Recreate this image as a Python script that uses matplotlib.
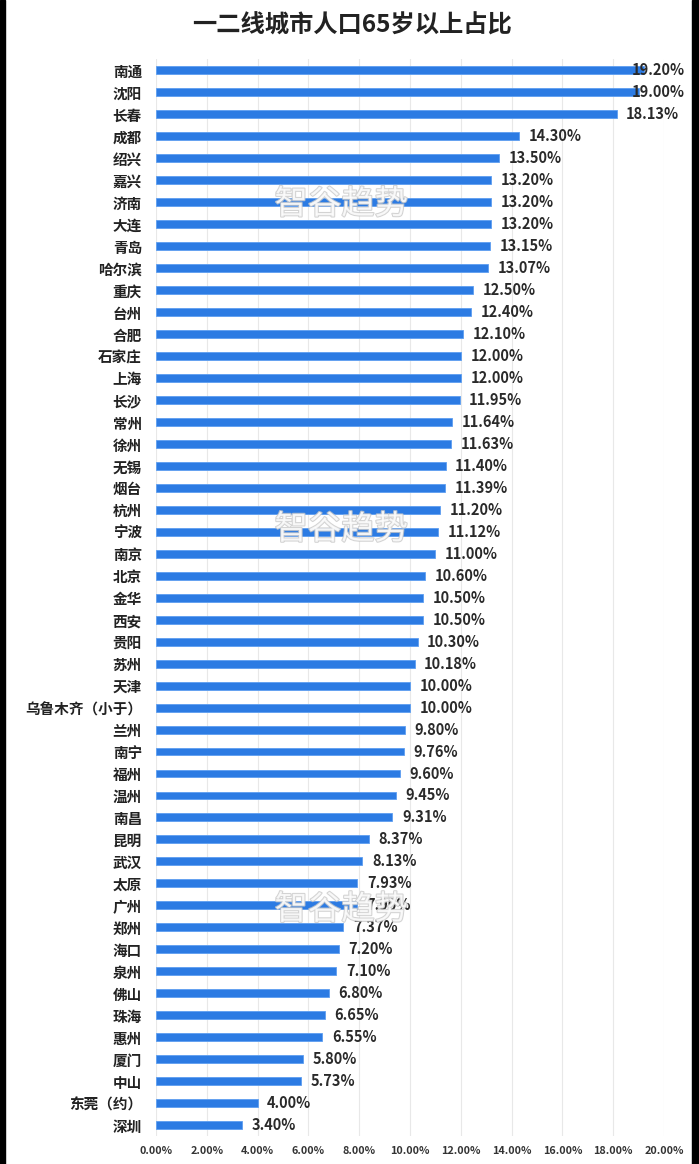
import matplotlib
matplotlib.use('Agg')
import matplotlib.pyplot as plt
import matplotlib.patheffects as pe
from matplotlib.patches import Rectangle
from matplotlib.ticker import FuncFormatter

plt.rcParams['font.family'] = ['Noto Sans CJK SC', 'DejaVu Sans']

cities = ['南通', '沈阳', '长春', '成都', '绍兴', '嘉兴', '济南', '大连', '青岛', '哈尔滨',
          '重庆', '台州', '合肥', '石家庄', '上海', '长沙', '常州', '徐州', '无锡', '烟台',
          '杭州', '宁波', '南京', '北京', '金华', '西安', '贵阳', '苏州', '天津', '乌鲁木齐（小于）',
          '兰州', '南宁', '福州', '温州', '南昌', '昆明', '武汉', '太原', '广州', '郑州',
          '海口', '泉州', '佛山', '珠海', '惠州', '厦门', '中山', '东莞（约）', '深圳']
share = [19.20, 19.00, 18.13, 14.30, 13.50, 13.20, 13.20, 13.20, 13.15, 13.07,
         12.50, 12.40, 12.10, 12.00, 12.00, 11.95, 11.64, 11.63, 11.40, 11.39,
         11.20, 11.12, 11.00, 10.60, 10.50, 10.50, 10.30, 10.18, 10.00, 10.00,
         9.80, 9.76, 9.60, 9.45, 9.31, 8.37, 8.13, 7.93, 7.90, 7.37,
         7.20, 7.10, 6.80, 6.65, 6.55, 5.80, 5.73, 4.00, 3.40]
title = '一二线城市人口65岁以上占比'
watermark = '智谷趋势'

fig = plt.figure(figsize=(6.99, 11.64), dpi=100)
ax = fig.add_axes([0.223, 0.024, 0.727, 0.925])

ypos = list(range(len(cities)))
ax.barh(ypos, share, height=0.36, color='#2c7be3', edgecolor='#5d9ef0', linewidth=0.6, zorder=2)
ax.set_ylim(len(cities) - 0.5, -0.5)
ax.set_xlim(0, 20)
ax.set_xticks(range(0, 21, 2))
ax.xaxis.set_major_formatter(FuncFormatter(lambda v, p: '%.2f%%' % v))
ax.set_yticks(ypos)
ax.set_yticklabels(cities)
ax.tick_params(axis='y', length=0, pad=10, labelsize=10.5, labelcolor='#222222')
ax.tick_params(axis='x', length=0, pad=7, labelsize=7.8, labelcolor='#333333')
for lab in ax.get_yticklabels():
    lab.set_fontweight('bold')
for lab in ax.get_xticklabels():
    lab.set_fontweight('bold')
ax.grid(axis='x', color='#e8e8e8', linewidth=0.8, zorder=0)
for s in ax.spines.values():
    s.set_visible(False)

# value labels (top ones get pushed back inside the plot area)
for y, v in zip(ypos, share):
    ax.text(min(v + 0.38, 18.74), y, '%.2f%%' % v, va='center', ha='left',
            fontsize=10.5, fontweight='bold', color='#2a2a2a', zorder=3)

fig.text(0.503, 0.978, title, fontsize=17.5, fontweight='bold', color='#222222',
         ha='center', va='center')

# watermark
for wy in (6.1, 20.9, 38.2):
    ax.text(7.3, wy, watermark, fontsize=24, color='white', alpha=0.8, ha='center', va='center',
            zorder=4, path_effects=[pe.withStroke(linewidth=1.5, foreground='#c8c8c8')])

# black side strips from the screenshot
fig.patches.append(Rectangle((0, 0), 5 / 699, 1, transform=fig.transFigure, color='black'))
fig.patches.append(Rectangle((692 / 699, 0), 7 / 699, 1, transform=fig.transFigure, color='black'))

fig.savefig('out.png', dpi=100, facecolor='white')
